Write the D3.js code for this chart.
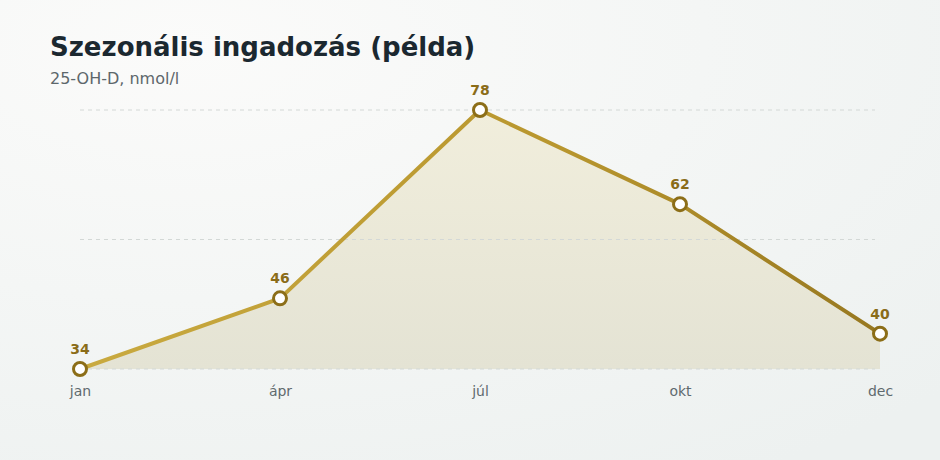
<!DOCTYPE html>
<html>
<head>
<meta charset="utf-8">
<script src="https://cdn.jsdelivr.net/npm/d3@7"></script>
<style>
  html, body { margin: 0; padding: 0; }
  body { width: 940px; height: 460px; overflow: hidden; font-family: "DejaVu Sans", sans-serif; }
</style>
</head>
<body>
<div id="chart"></div>
<script>
// data
var months = ['jan', 'ápr', 'júl', 'okt', 'dec'];
var values = [34, 46, 78, 62, 40];
var gridValues = [34, 56, 78];

var width = 940, height = 460;
var margin = {top: 110, right: 60, bottom: 91, left: 80};

var svg = d3.select('#chart').append('svg')
  .attr('width', width)
  .attr('height', height);

var defs = svg.append('defs');

//background gradient
var bg = defs.append('radialGradient')
  .attr('id', 'bgGrad')
  .attr('cx', '0.2').attr('cy', '0.1').attr('r', '1.1');
bg.append('stop').attr('offset', '0%').attr('stop-color', '#fbfbfa');
bg.append('stop').attr('offset', '100%').attr('stop-color', '#edf1f0');

var lineGrad = defs.append('linearGradient')
  .attr('id', 'lineGrad')
  .attr('x1', '0').attr('x2', '1').attr('y1', '0').attr('y2', '0');
lineGrad.append('stop').attr('offset', '0%').attr('stop-color', '#c9aa40');
lineGrad.append('stop').attr('offset', '60%').attr('stop-color', '#b8962e');
lineGrad.append('stop').attr('offset', '100%').attr('stop-color', '#977820');

var areaGrad = defs.append('linearGradient')
  .attr('id', 'areaGrad')
  .attr('x1', '0').attr('x2', '0').attr('y1', '0').attr('y2', '1');
areaGrad.append('stop').attr('offset', '0%').attr('stop-color', '#f1eedc');
areaGrad.append('stop').attr('offset', '100%').attr('stop-color', '#e4e3d4');

svg.append('rect')
  .attr('width', width)
  .attr('height', height)
  .attr('fill', 'url(#bgGrad)');

//title
svg.append('text')
  .attr('x', 50).attr('y', 56)
  .attr('font-size', 26)
  .attr('font-weight', 'bold')
  .attr('fill', '#1b2830')
  .text('Szezonális ingadozás (példa)');

svg.append('text')
  .attr('x', 50).attr('y', 84)
  .attr('font-size', 16)
  .attr('fill', '#5d676b')
  .text('25-OH-D, nmol/l');

//scales
var x = d3.scalePoint()
  .domain(months)
  .range([margin.left, width - margin.right]);

var y = d3.scaleLinear()
  .domain(d3.extent(values))
  .range([height - margin.bottom, margin.top]);

var data = months.map(function(m, i){ return {m: m, v: values[i]}; });

//area
var area = d3.area()
  .x(function(d){ return x(d.m); })
  .y0(y(d3.min(values)))
  .y1(function(d){ return y(d.v); });

svg.append('path')
  .datum(data)
  .attr('d', area)
  .attr('fill', 'url(#areaGrad)');

//grid lines
svg.append('g')
  .selectAll('line')
  .data(gridValues)
  .enter()
  .append('line')
  .attr('x1', margin.left)
  .attr('x2', width - margin.right - 5)
  .attr('y1', function(d){ return y(d); })
  .attr('y2', function(d){ return y(d); })
  .attr('stroke', '#d3d8d6')
  .attr('stroke-width', 1)
  .attr('stroke-dasharray', '4,4');

//line
var line = d3.line()
  .x(function(d){ return x(d.m); })
  .y(function(d){ return y(d.v); });

svg.append('path')
  .datum(data)
  .attr('d', line)
  .attr('fill', 'none')
  .attr('stroke', 'url(#lineGrad)')
  .attr('stroke-width', 4)
  .attr('stroke-linejoin', 'round')
  .attr('stroke-linecap', 'round');

//x axis labels
var xAxis = d3.axisBottom(x).tickSize(0).tickPadding(0);
var gx = svg.append('g')
  .attr('transform', 'translate(0,' + (height - margin.bottom + 17) + ')')
  .call(xAxis);
gx.select('.domain').remove();
gx.selectAll('text')
  .attr('font-family', '"DejaVu Sans", sans-serif')
  .attr('font-size', 14)
  .attr('fill', '#5f6a6e')
  .attr('dy', '0.71em');

//points
svg.append('g')
  .selectAll('circle')
  .data(data)
  .enter()
  .append('circle')
  .attr('cx', function(d){ return x(d.m); })
  .attr('cy', function(d){ return y(d.v); })
  .attr('r', 6.5)
  .attr('fill', '#ffffff')
  .attr('stroke', '#8c6e18')
  .attr('stroke-width', 3);

//value labels
svg.append('g')
  .selectAll('text')
  .data(data)
  .enter()
  .append('text')
  .attr('x', function(d){ return x(d.m); })
  .attr('y', function(d){ return y(d.v) - 15; })
  .attr('text-anchor', 'middle')
  .attr('font-size', 14)
  .attr('font-weight', 'bold')
  .attr('fill', '#8a6c18')
  .text(function(d){ return d.v; });
</script>
</body>
</html>
